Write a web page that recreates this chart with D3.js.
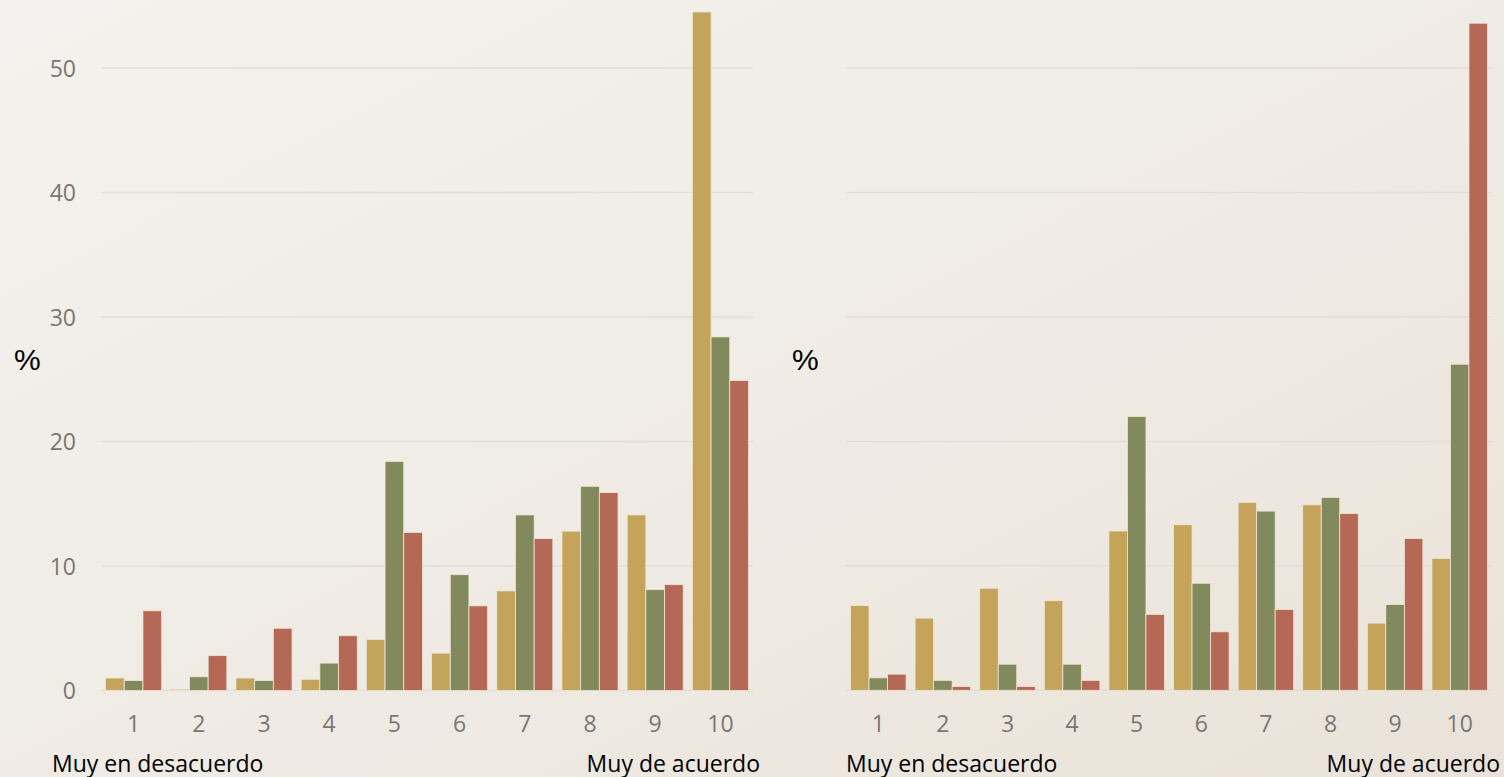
<!DOCTYPE html>
<html>
<head>
<meta charset="utf-8">
<script src="https://cdn.jsdelivr.net/npm/d3@7"></script>
<style>
  html, body { margin: 0; padding: 0; overflow: hidden; }
  body { width: 1504px; height: 777px; }
  svg { display: block; }
</style>
</head>
<body>
<svg id="chart" width="1504" height="777"></svg>
<script>
// ---- data ----
const categories = ["1", "2", "3", "4", "5", "6", "7", "8", "9", "10"];
const seriesNames = ["A", "B", "C"];
const leftGold  = [1.0, 0.1, 1.0, 0.9, 4.1, 3.0, 8.0, 12.8, 14.1, 54.5];
const leftGreen = [0.8, 1.1, 0.8, 2.2, 18.4, 9.3, 14.1, 16.4, 8.1, 28.4];
const leftRed   = [6.4, 2.8, 5.0, 4.4, 12.7, 6.8, 12.2, 15.9, 8.5, 24.9];
const rightGold  = [6.8, 5.8, 8.2, 7.2, 12.8, 13.3, 15.1, 14.9, 5.4, 10.6];
const rightGreen = [1.0, 0.8, 2.1, 2.1, 22.0, 8.6, 14.4, 15.5, 6.9, 26.2];
const rightRed   = [1.3, 0.3, 0.3, 0.8, 6.1, 4.7, 6.5, 14.2, 12.2, 53.6];
const yTicks = [0, 10, 20, 30, 40, 50];
const yUnit = "%";
const lowLabel = "Muy en desacuerdo";
const highLabel = "Muy de acuerdo";

// ---- styles ----
const colors = ["#C4A35B", "#82895C", "#B56855"];
const svg = d3.select("#chart");

const defs = svg.append("defs");
const grad = defs.append("linearGradient").attr("id", "bg")
  .attr("x1", "0%").attr("y1", "0%").attr("x2", "100%").attr("y2", "100%");
grad.append("stop").attr("offset", "0%").attr("stop-color", "#F4F2EE");
grad.append("stop").attr("offset", "55%").attr("stop-color", "#EFEBE4");
grad.append("stop").attr("offset", "100%").attr("stop-color", "#EAE2D8");
svg.append("rect").attr("width", 1504).attr("height", 777).attr("fill", "url(#bg)");

const fontFam = "'Open Sans', 'Noto Sans', sans-serif";

function drawPanel(opts) {
  const { x0, x1, y0, yMax, gold, green, red, showY, pctX, lowX, highX } = opts;
  const y = d3.scaleLinear().domain([0, yMax]).range([y0, y0 - (y0 - 68) * yMax / 50]);
  const x = d3.scaleBand().domain(categories).range([x0, x1]).paddingInner(0.14).paddingOuter(0.07);
  const xs = d3.scaleBand().domain(seriesNames).range([0, x.bandwidth()]);
  const g = svg.append("g");

  // gridlines
  g.selectAll("line.grid").data(yTicks).join("line")
    .attr("x1", x0).attr("x2", x1)
    .attr("y1", d => y(d)).attr("y2", d => y(d))
    .attr("stroke", "#E1DEDA").attr("stroke-width", 1.5);

  // y labels
  if (showY) {
    const ax = d3.axisLeft(y).tickValues(yTicks).tickSize(0).tickPadding(25);
    const ag = g.append("g").attr("transform", `translate(${x0},0)`).call(ax);
    ag.select(".domain").remove();
    ag.selectAll("text").attr("font-family", fontFam).attr("font-size", 23)
      .attr("fill", "#7A7674").attr("dy", "0.35em");
  }

  // x labels
  const xa = d3.axisBottom(x).tickSize(0).tickPadding(25);
  const xg = g.append("g").attr("transform", `translate(0,${y0})`).call(xa);
  xg.select(".domain").remove();
  xg.selectAll("text").attr("font-family", fontFam).attr("font-size", 23)
    .attr("fill", "#7A7674");

  // bars
  const rows = categories.map((c, i) => ({ c, vals: [gold[i], green[i], red[i]] }));
  const grp = g.selectAll("g.cat").data(rows).join("g")
    .attr("transform", d => `translate(${x(d.c)},0)`);
  grp.selectAll("rect").data(d => d.vals.map((v, k) => ({ v, k })))
    .join("rect")
    .attr("x", d => xs(seriesNames[d.k]))
    .attr("width", xs.bandwidth())
    .attr("y", d => y(d.v))
    .attr("height", d => y0 - y(d.v))
    .attr("fill", d => colors[d.k])
    .attr("stroke", "#EFE6D6").attr("stroke-width", 0.8);

  // % label
  g.append("text").attr("x", pctX).attr("y", 359).attr("dy", "0.35em")
    .attr("font-family", "'Liberation Sans', 'Open Sans', sans-serif").attr("font-size", 30)
    .attr("fill", "#000").text(yUnit);

  // end labels
  g.append("text").attr("x", lowX).attr("y", 772)
    .attr("font-family", fontFam).attr("font-size", 23).attr("fill", "#000")
    .text(lowLabel);
  g.append("text").attr("x", highX).attr("y", 772).attr("text-anchor", "end")
    .attr("font-family", fontFam).attr("font-size", 23).attr("fill", "#000")
    .text(highLabel);
}

drawPanel({ x0: 101, x1: 753, y0: 690.5, yMax: 55, gold: leftGold, green: leftGreen, red: leftRed,
  showY: true, pctX: 14, lowX: 52, highX: 760 });
drawPanel({ x0: 846, x1: 1492, y0: 690.3, yMax: 55, gold: rightGold, green: rightGreen, red: rightRed,
  showY: false, pctX: 792, lowX: 846, highX: 1500 });
</script>
</body>
</html>
